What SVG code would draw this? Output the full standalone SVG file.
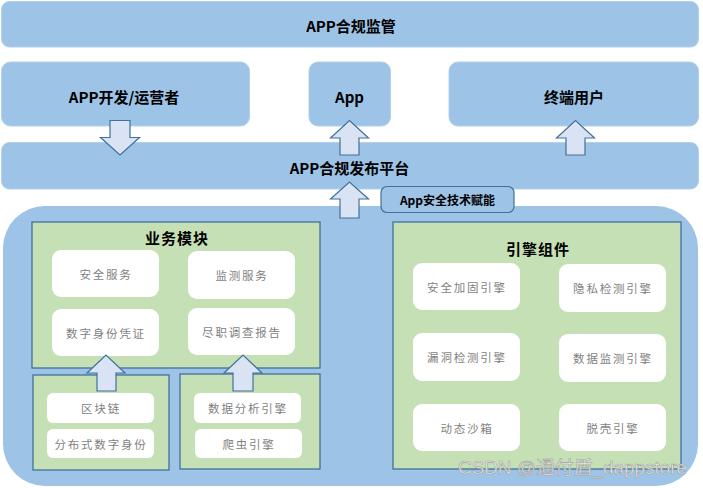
<svg xmlns="http://www.w3.org/2000/svg" width="703" height="488" viewBox="0 0 703 488">
<style>
.bar{fill:#9DC3E6;stroke:#B1D0EC;stroke-width:1}
.grn{fill:#C5E0B4;stroke:#41719C;stroke-width:1.3}
.wht{fill:#FFFFFF;stroke:none}
.arr{fill:#DAE3F3;stroke:#41719C;stroke-width:1.2;stroke-linejoin:miter}
.lbl{font-family:"Noto Sans CJK SC","Liberation Sans",sans-serif;font-weight:bold;font-size:15px;fill:#000;text-anchor:middle;dominant-baseline:central}
.sub{font-family:"Noto Sans CJK SC","Liberation Sans",sans-serif;font-size:11.5px;fill:#7F7F7F;text-anchor:middle;dominant-baseline:central;letter-spacing:1.8px}
.ttl{font-family:"Noto Sans CJK SC","Liberation Sans",sans-serif;font-weight:bold;font-size:15px;fill:#000;text-anchor:middle;dominant-baseline:central;letter-spacing:1px}
</style>
<rect width="703" height="488" fill="#FFFFFF"/>
<g id="regulation">
<rect class="bar" x="1.5" y="1.5" width="697" height="45.5" rx="8"/>
<text class="lbl" x="351" y="25">APP合规监管</text>
</g>
<g id="developer">
<rect class="bar" x="1.5" y="62" width="248" height="64" rx="9"/>
<text class="lbl" x="124" y="96">APP开发/运营者</text>
</g>
<g id="app">
<rect class="bar" x="309" y="62" width="81.5" height="64" rx="9"/>
<text class="lbl" x="349.5" y="96">App</text>
</g>
<g id="enduser">
<rect class="bar" x="449" y="62" width="249.5" height="64" rx="9"/>
<text class="lbl" x="574" y="96">终端用户</text>
</g>
<g id="platform">
<rect class="bar" x="1.5" y="142.5" width="697" height="46.5" rx="8"/>
<text class="lbl" x="349.5" y="167">APP合规发布平台</text>
</g>
<g id="base">
<rect x="3" y="206" width="695" height="280" rx="42" fill="#9DC3E6"/>
</g>
<g id="enable">
<rect x="381" y="186.5" width="133" height="26" rx="6" fill="#9DC3E6" stroke="#41719C" stroke-width="1.2"/>
<text class="lbl" x="447.5" y="199.5" style="font-size:12px">App安全技术赋能</text>
</g>
<g id="business">
<rect class="grn" x="32" y="222" width="288" height="146"/>
<text class="ttl" x="177" y="237">业务模块</text>
<rect class="wht" x="52" y="250" width="107" height="47" rx="9"/>
<text class="sub" x="106" y="274">安全服务</text>
<rect class="wht" x="188" y="251" width="107" height="48" rx="9"/>
<text class="sub" x="242" y="275">监测服务</text>
<rect class="wht" x="52" y="309" width="107" height="47" rx="9"/>
<text class="sub" x="106" y="333">数字身份凭证</text>
<rect class="wht" x="188" y="308" width="107" height="47" rx="9"/>
<text class="sub" x="242" y="332">尽职调查报告</text>
</g>
<g id="blockchain">
<rect class="grn" x="33" y="375" width="136" height="95"/>
<rect class="wht" x="47" y="393" width="107" height="30" rx="6"/>
<text class="sub" x="101" y="408">区块链</text>
<rect class="wht" x="47" y="429" width="107" height="29" rx="6"/>
<text class="sub" x="101" y="444">分布式数字身份</text>
</g>
<g id="analysis">
<rect class="grn" x="180" y="374" width="140" height="95"/>
<rect class="wht" x="194" y="393" width="107" height="30" rx="6"/>
<text class="sub" x="248" y="408">数据分析引擎</text>
<rect class="wht" x="195" y="429" width="107" height="29" rx="6"/>
<text class="sub" x="249" y="444">爬虫引擎</text>
</g>
<g id="engines">
<rect class="grn" x="393" y="222" width="288" height="247"/>
<text class="ttl" x="538" y="248">引擎组件</text>
<rect class="wht" x="413" y="263" width="107" height="47" rx="9"/>
<text class="sub" x="467" y="287">安全加固引擎</text>
<rect class="wht" x="559" y="264" width="107" height="48" rx="9"/>
<text class="sub" x="613" y="288">隐私检测引擎</text>
<rect class="wht" x="413" y="333" width="107" height="48" rx="9"/>
<text class="sub" x="467" y="357">漏洞检测引擎</text>
<rect class="wht" x="559" y="334" width="107" height="48" rx="9"/>
<text class="sub" x="613" y="358">数据监测引擎</text>
<rect class="wht" x="413" y="404" width="107" height="47" rx="9"/>
<text class="sub" x="467" y="428">动态沙箱</text>
<rect class="wht" x="559" y="404" width="107" height="47" rx="9"/>
<text class="sub" x="613" y="428">脱壳引擎</text>
</g>
<g id="connectors">
<polygon class="arr" points="110,120.5 130,120.5 130,137.5 139.5,137.5 120,155 100.5,137.5 110,137.5"/>
<polygon class="arr" points="340,155 359,155 359,138 368.5,138 349.5,120.5 330.5,138 340,138"/>
<polygon class="arr" points="566,155 585,155 585,138 594.5,138 575.5,120.5 556.5,138 566,138"/>
<polygon class="arr" points="340,218 359,218 359,199 368.5,199 349.5,182 330.5,199 340,199"/>
<polygon class="arr" points="97,391 116,391 116,373 125,373 106,355 87,373 97,373"/>
<polygon class="arr" points="233,391 253,391 253,373 262,373 243,355 224,373 233,373"/>
</g>
<text x="458" y="474" textLength="229" lengthAdjust="spacingAndGlyphs" font-family="'Liberation Sans','Noto Sans CJK SC',sans-serif" font-size="18.5" fill="#F4F4F4" stroke="#A0A0A0" stroke-width="0.6" fill-opacity="0.85">CSDN @通付盾_dappstore</text>
</svg>
